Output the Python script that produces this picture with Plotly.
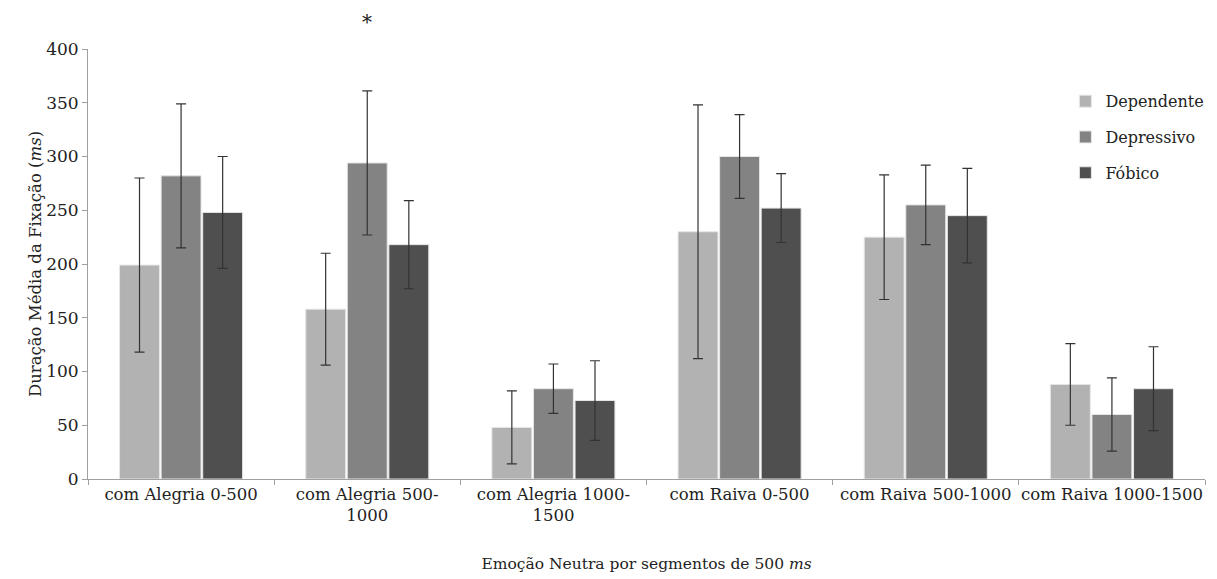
import plotly.graph_objects as go

categories = ["com Alegria 0-500", "com Alegria 500-<br>1000", "com Alegria 1000-<br>1500",
              "com Raiva 0-500", "com Raiva 500-1000", "com Raiva 1000-1500"]
series_names = ["Dependente", "Depressivo", "Fóbico"]
dependente = [199, 158, 48, 230, 225, 88]
dependente_err = [81, 52, 34, 118, 58, 38]
depressivo = [282, 294, 84, 300, 255, 60]
depressivo_err = [67, 67, 23, 39, 37, 34]
fobico = [248, 218, 73, 252, 245, 84]
fobico_err = [52, 41, 37, 32, 44, 39]
colors = ["#b2b2b2", "#838383", "#4f4f4f"]
yticks = [0, 50, 100, 150, 200, 250, 300, 350, 400]

ff = "DejaVu Serif"
txt = "#222222"
fig = go.Figure()
for name, vals, errs, col in zip(series_names, [dependente, depressivo, fobico],
                                 [dependente_err, depressivo_err, fobico_err], colors):
    fig.add_trace(go.Bar(
        x=categories, y=vals, name=name, legendgroup=name,
        marker=dict(color=col, line=dict(color="#e6e6e6", width=1)),
        error_y=dict(type="data", array=errs, visible=True, color="#333333", thickness=1.2, width=5),
    ))

fig.add_annotation(x=categories[1], y=1.095, xref="x", yref="paper", text="*", showarrow=False,
                   font=dict(family=ff, size=20, color=txt))

fig.update_layout(
    template="none",
    width=1217, height=579,
    barmode="group", bargap=0.33, bargroupgap=0.04,
    plot_bgcolor="white", paper_bgcolor="white",
    margin=dict(l=80, r=20, t=41, b=108),
    font=dict(family=ff, size=16, color=txt),
    legend=dict(x=0.875, y=0.918, xanchor="left", yanchor="top", itemwidth=30,
                font=dict(family=ff, size=16, color=txt),
                bgcolor="rgba(0,0,0,0)", tracegroupgap=12),
    xaxis=dict(showline=True, linecolor="#a0a0a0", linewidth=1, ticks="outside", tickson="boundaries",
               ticklen=5, tickcolor="#a0a0a0", showgrid=False, zeroline=False, tickangle=0,
               tickfont=dict(family=ff, size=16.5, color=txt),
               title=dict(text="Emoção Neutra por segmentos de 500 <i>ms</i>",
                          font=dict(family=ff, size=15.5, color=txt), standoff=33)),
    yaxis=dict(range=[0, 400], tickvals=yticks, showline=True, linecolor="#a0a0a0", linewidth=1,
               ticks="outside", ticklen=5, tickcolor="#a0a0a0", showgrid=False, zeroline=False,
               tickfont=dict(family=ff, size=17, color=txt),
               title=dict(text="Duração Média da Fixação (<i>ms</i>)",
                          font=dict(family=ff, size=16.5, color=txt), standoff=0)),
)

fig.write_html("out.html")
